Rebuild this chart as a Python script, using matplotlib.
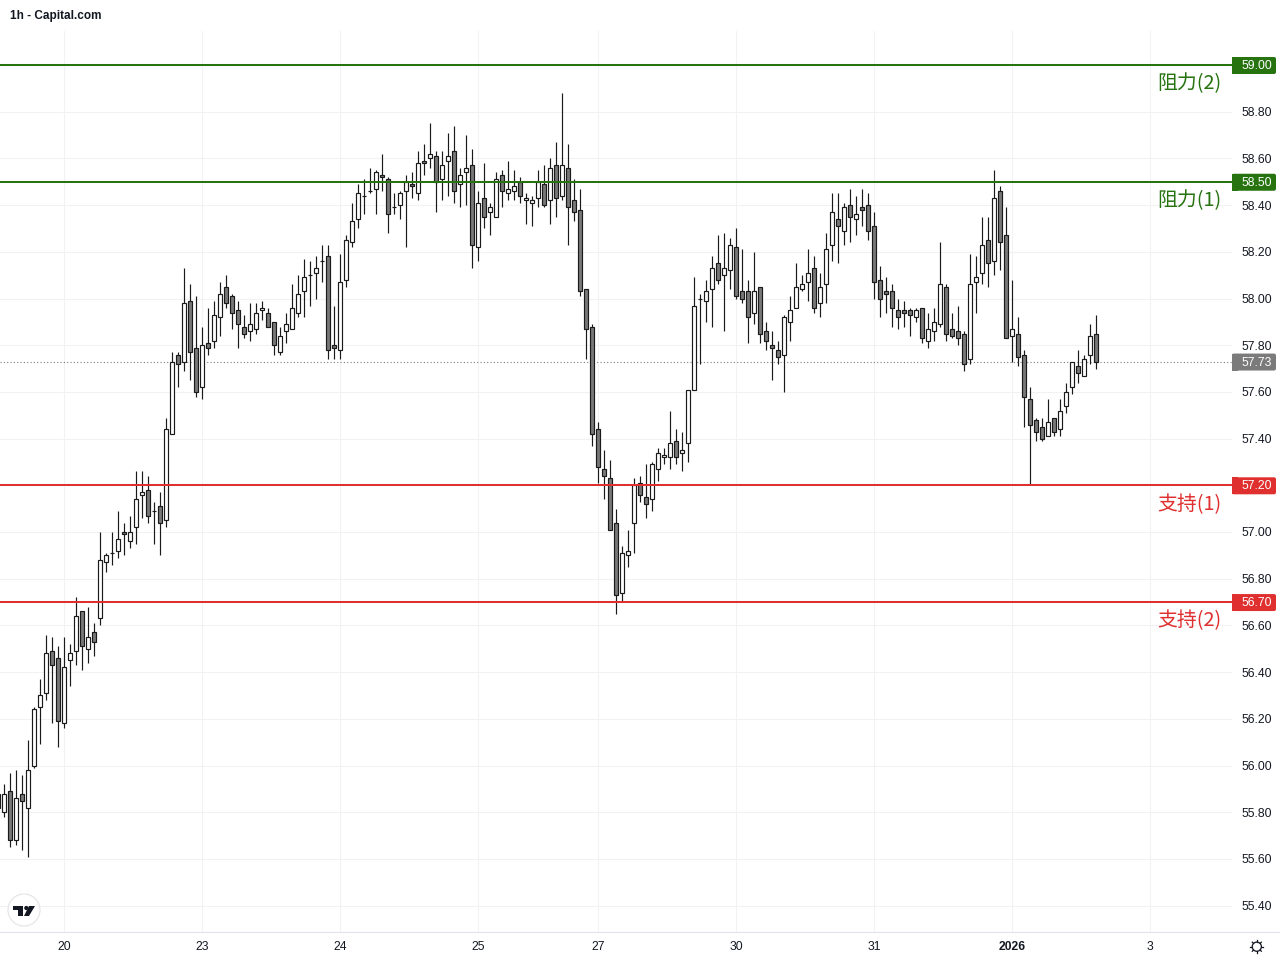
import math
import matplotlib
matplotlib.use("Agg")
import matplotlib.pyplot as plt
from matplotlib.lines import Line2D
from matplotlib.patches import Circle, FancyBboxPatch, Polygon, Rectangle
from matplotlib.transforms import IdentityTransform, blended_transform_factory

open_ = [55.82,55.80,55.89,55.68,55.88,55.82,56.00,56.25,56.31,56.49,56.46,56.18,56.45,56.49,56.66,56.50,56.57,56.63,56.87,56.91,56.92,57.00,56.96,57.02,57.16,57.18,57.09,57.11,
 57.05,57.42,57.76,57.73,57.99,57.79,57.62,57.81,57.82,57.92,58.05,58.01,57.95,57.88,57.86,57.87,57.95,57.94,57.90,57.77,57.86,57.87,57.94,58.03,58.10,58.11,58.16,58.18,57.80,57.78,58.08,
 58.24,58.34,58.44,58.46,58.47,58.53,58.51,58.39,58.40,58.46,58.49,58.45,58.59,58.60,58.61,58.51,58.59,58.63,58.49,58.54,58.57,58.22,58.43,58.37,58.35,58.53,58.45,58.46,58.50,58.42,58.41,58.43,58.49,58.42,58.57,58.44,58.56,58.42,
 58.38,58.04,57.88,57.44,57.27,57.23,57.04,56.74,56.90,57.04,57.21,57.15,57.14,57.27,57.32,57.32,57.39,57.34,57.38,57.61,58.00,57.99,58.04,58.15,58.10,58.12,58.22,
 58.03,58.03,57.94,58.05,57.86,57.80,57.78,57.76,57.90,57.96,58.04,58.07,58.13,57.98,58.06,58.23,58.34,58.29,58.40,58.34,58.39,58.40,58.31,58.08,58.03,
 58.03,57.95,57.95,57.95,57.92,57.96,57.82,57.86,57.89,58.05,57.87,57.86,57.85,57.74,58.07,58.11,58.25,58.16,58.46,58.27,57.84,57.85,57.76,57.57,57.48,57.45,57.41,57.49,57.44,57.54,57.62,57.71,57.67,57.76,57.85]
high = [55.93,55.92,55.97,55.98,55.96,56.11,56.25,56.37,56.56,56.55,56.51,56.55,56.52,56.72,56.66,56.68,56.61,57.00,56.91,57.00,57.09,57.04,57.07,57.26,57.26,57.24,57.13,57.17,
 57.49,57.77,57.77,58.13,58.06,58.01,57.88,57.96,57.99,58.07,58.10,58.02,57.99,57.93,57.98,57.98,57.99,57.96,57.90,57.88,57.94,58.06,58.10,58.17,58.16,58.18,58.23,58.23,57.97,58.19,58.27,
 58.41,58.49,58.51,58.56,58.55,58.62,58.52,58.45,58.46,58.53,58.54,58.63,58.66,58.75,58.63,58.63,58.71,58.74,58.56,58.70,58.64,58.46,58.58,58.41,58.54,58.55,58.59,58.55,58.52,58.45,58.44,58.55,58.57,58.60,58.67,58.88,58.66,58.51,
 58.47,58.04,57.89,57.47,57.35,57.31,57.10,56.94,57.01,57.23,57.24,57.29,57.30,57.36,57.36,57.52,57.44,57.43,57.61,58.09,58.02,58.08,58.18,58.27,58.28,58.26,58.30,
 58.21,58.08,58.20,58.05,57.90,57.86,57.82,57.93,58.01,58.15,58.10,58.21,58.18,58.11,58.28,58.45,58.45,58.41,58.47,58.44,58.47,58.45,58.37,58.14,58.09,
 58.06,58.00,57.99,57.96,57.96,57.96,57.94,57.96,58.24,58.06,57.94,57.97,57.86,58.19,58.18,58.35,58.35,58.55,58.48,58.39,58.08,57.92,57.78,57.62,57.49,57.49,57.57,57.49,57.57,57.64,57.73,57.78,57.76,57.89,57.93]
low = [55.79,55.78,55.65,55.66,55.64,55.61,55.99,56.09,56.28,56.18,56.08,56.16,56.34,56.43,56.41,56.44,56.47,56.60,56.83,56.86,56.89,56.90,56.93,56.95,57.06,57.04,56.95,56.90,
 57.02,57.42,57.62,57.69,57.65,57.58,57.57,57.76,57.79,57.84,57.96,57.87,57.79,57.83,57.82,57.85,57.91,57.88,57.76,57.76,57.81,57.87,57.92,57.92,57.97,58.00,58.07,57.74,57.74,57.74,58.05,
 58.22,58.30,58.36,58.45,58.36,58.46,58.28,58.36,58.34,58.22,58.43,58.42,58.53,58.56,58.37,58.42,58.44,58.41,58.39,58.40,58.13,58.16,58.30,58.27,58.35,58.39,58.42,58.42,58.41,58.32,58.31,58.39,58.39,58.32,58.35,58.42,58.23,58.33,
 58.01,57.74,57.37,57.21,57.14,57.01,56.65,56.70,56.85,56.91,57.13,57.06,57.09,57.22,57.29,57.27,57.29,57.26,57.30,57.61,57.72,57.90,57.88,58.06,57.86,58.04,58.00,
 57.98,57.81,57.89,57.81,57.78,57.65,57.72,57.60,57.82,57.96,58.03,57.99,57.94,57.92,57.98,58.16,58.15,58.23,58.24,58.27,58.31,58.25,58.00,57.92,57.94,
 57.88,57.87,57.88,57.84,57.90,57.81,57.79,57.82,57.88,57.82,57.83,57.80,57.69,57.72,57.94,58.06,58.05,58.10,58.12,57.83,57.73,57.71,57.45,57.20,57.39,57.39,57.41,57.41,57.41,57.51,57.59,57.64,57.67,57.72,57.70]
close = [55.88,55.88,55.68,55.86,55.85,55.98,56.24,56.30,56.48,56.43,56.19,56.42,56.48,56.64,56.51,56.55,56.53,56.88,56.90,56.91,56.97,56.99,57.00,57.14,57.17,57.07,57.09,57.04,
 57.44,57.73,57.72,57.98,57.77,57.60,57.80,57.79,57.93,58.02,57.98,57.94,57.89,57.85,57.89,57.94,57.96,57.88,57.80,57.84,57.89,57.96,58.02,58.09,58.10,58.13,58.16,57.78,57.79,58.07,58.25,
 58.33,58.45,58.44,58.46,58.54,58.52,58.36,58.39,58.45,58.50,58.48,58.58,58.58,58.62,58.50,58.57,58.61,58.46,58.53,58.56,58.23,58.41,58.35,58.39,58.51,58.46,58.47,58.48,58.44,58.43,58.42,58.50,58.40,58.56,58.43,58.57,58.39,58.37,
 58.03,57.87,57.42,57.28,57.24,57.01,56.73,56.91,56.92,57.20,57.16,57.12,57.29,57.34,57.33,57.38,57.32,57.35,57.61,57.97,58.00,58.03,58.13,58.08,58.13,58.23,58.01,
 58.00,57.92,58.03,57.85,57.82,57.79,57.75,57.92,57.95,58.05,58.06,58.11,57.96,58.05,58.21,58.37,58.31,58.39,58.35,58.36,58.38,58.29,58.07,58.00,58.02,
 57.96,57.92,57.94,57.93,57.95,57.83,57.87,57.90,58.06,57.85,57.84,57.83,57.72,58.06,58.09,58.23,58.15,58.43,58.24,57.83,57.87,57.75,57.58,57.46,57.43,57.40,57.47,57.43,57.52,57.60,57.73,57.68,57.74,57.84,57.73]

time_tick_bars = [10, 33, 56, 79, 99, 122, 145, 168, 191]
time_tick_labels = ["20", "23", "24", "25", "27", "30", "31", "2026", "3"]
price_ticks = [55.4, 55.6, 55.8, 56.0, 56.2, 56.4, 56.6, 56.8, 57.0, 57.2, 57.4, 57.6, 57.8, 58.0, 58.2, 58.4, 58.6, 58.8, 59.0]
resistance_levels = [59.00, 58.50]
resistance_names = ["阻力(2)", "阻力(1)"]
support_levels = [57.20, 56.70]
support_names = ["支持(1)", "支持(2)"]
last_price = 57.73
title = "1h - Capital.com"

GREEN, RED, GREY = "#267310", "#df2f2f", "#7b7b7b"
INK, DOWN, GRID = "#1a1a1a", "#787878", "#f2f2f5"
UI = ["Liberation Sans", "DejaVu Sans"]
CJK = ["Noto Sans CJK SC", "DejaVu Sans"]

fig = plt.figure(figsize=(12.8, 9.6), dpi=100, facecolor="white")
ax = fig.add_axes([0, 28 / 960, 1232 / 1280, 932 / 960])
for s in ("top", "left", "right"):
    ax.spines[s].set_visible(False)
ax.spines["bottom"].set_color("#e0e3eb")
ax.spines["bottom"].set_linewidth(0.8)

bars = list(range(-1, len(open_) - 1))
ax.set_xlim((0 - 4.33) / 6, (1232 - 4.33) / 6)
ax.set_ylim(59 - 867 / 233.5, 59 + 65 / 233.5)

ax.set_axisbelow(True)
ax.grid(True, color=GRID, lw=0.8)
ax.set_xticks(time_tick_bars, time_tick_labels, fontsize=8.7, family=UI, color="#131722")
ax.get_xticklabels()[7].set_fontweight("bold")
ax.yaxis.tick_right()
ax.set_yticks(price_ticks, [f"{p:.2f}" for p in price_ticks], fontsize=8.7, family=UI, color="#131722")
ax.tick_params(axis="both", length=0)
ax.tick_params(axis="y", pad=7.2)
ax.tick_params(axis="x", pad=6.2)
ax.add_patch(Rectangle((0, 1 - 31 / 932), 1, 31 / 932, transform=ax.transAxes, fc="white", ec="none", zorder=0.9))

ax.axhline(last_price, color=GREY, lw=0.8, ls=(0, (1, 2)), zorder=1)

ax.vlines(bars, low, high, color=INK, lw=0.85, zorder=2)
bottoms = [min(o, c) for o, c in zip(open_, close)]
heights = [abs(c - o) for o, c in zip(open_, close)]
colors = ["white" if c >= o else DOWN for o, c in zip(open_, close)]
ax.bar(bars, heights, bottom=bottoms, width=4 / 6, color=colors, edgecolor=INK, linewidth=0.85, zorder=3)

blend = blended_transform_factory(ax.transAxes, ax.transData)
idt = IdentityTransform()
def badge(price, color):
    y_px = blend.transform((1, price))[1] - 0.5
    ax.add_patch(FancyBboxPatch((1234, y_px - 6.5), 40, 13, boxstyle="round,pad=2,rounding_size=2", transform=idt,
                                fc=color, ec="none", clip_on=False, zorder=5))
    ax.add_patch(Rectangle((1232, y_px - 8.5), 6, 17, transform=idt, fc=color, ec="none", clip_on=False, zorder=5))
    ax.text(1 + 10 / 1232, price - 1 / 233.5, f"{price:.2f}", transform=blend, color="white", fontsize=8.7,
            family=UI, va="center", ha="left", clip_on=False, zorder=6)

for p, name, col in [(resistance_levels[0], resistance_names[0], GREEN), (resistance_levels[1], resistance_names[1], GREEN),
                     (support_levels[0], support_names[0], RED), (support_levels[1], support_names[1], RED)]:
    ax.axhline(p, color=col, lw=1.45, zorder=4)
    badge(p, col)
    ax.text(1 - 10 / 1232, p - 19 / 233.5, name, transform=blend, color=col, fontsize=14.3, family=CJK, ha="right", va="center", zorder=6)
badge(last_price, GREY)

fig.text(10 / 1280, 1 - 15.5 / 960, title, fontsize=8.5, fontweight="bold", family=UI, color="#131722", va="center")

def px(points):
    return [(x, 960 - y) for x, y in points]
fig.add_artist(Circle((24, 960 - 910), 16, transform=idt, fc="white", ec="#e6e6ea", lw=0.9))
for shape in ([(13, 906), (23, 906), (23, 916), (18, 916), (18, 910), (13, 910)],
              [(29, 906), (35, 906), (29, 916), (24, 916)]):
    fig.add_artist(Polygon(px(shape), transform=idt, fc="#131722", ec="none"))
fig.add_artist(Circle((26.3, 960 - 908), 2.1, transform=idt, fc="#131722", ec="none"))

# axis line under the price scale and the settings icon
fig.add_artist(Line2D([1233, 1280], [28, 28], transform=idt, color="#e0e3eb", lw=0.8))
gear_c = (1256.8, 960 - 946.7)
fig.add_artist(Circle(gear_c, 4.6, transform=idt, fc="white", ec="#131722", lw=0.9))
for k in range(8):
    a = k * math.pi / 4
    fig.add_artist(Line2D([gear_c[0] + 4.6 * math.cos(a), gear_c[0] + 6.4 * math.cos(a)],
                          [gear_c[1] + 4.6 * math.sin(a), gear_c[1] + 6.4 * math.sin(a)],
                          transform=idt, color="#131722", lw=0.9))

fig.savefig("out.png", dpi=100)
